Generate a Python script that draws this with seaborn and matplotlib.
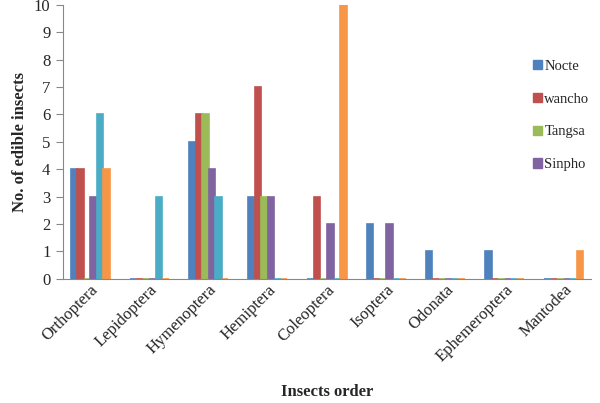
import numpy as np
import pandas as pd
import seaborn as sns
from matplotlib import pyplot as plt

orders = ['Orthoptera', 'Lepidoptera', 'Hymenoptera', 'Hemiptera', 'Coleoptera',
          'Isoptera', 'Odonata', 'Ephemeroptera', 'Mantodea']
nocte = [4, 0, 5, 3, 0, 2, 1, 1, 0]
wancho = [4, 0, 6, 7, 3, 0, 0, 0, 0]
tangsa = [0, 0, 6, 3, 0, 0, 0, 0, 0]
sinpho = [3, 0, 4, 3, 2, 2, 0, 0, 0]
series5 = [6, 3, 3, 0, 0, 0, 0, 0, 0]
series6 = [4, 0, 0, 0, 10, 0, 0, 0, 1]

tribes = ['Nocte', 'wancho', 'Tangsa', 'Sinpho', 'Series5', 'Series6']
colors = ['#4F81BD', '#C0504D', '#9BBB59', '#8064A2', '#4BACC6', '#F79646']

rows = []
for name, vals in zip(tribes, [nocte, wancho, tangsa, sinpho, series5, series6]):
    for o, v in zip(orders, vals):
        rows.append({'order': o, 'tribe': name, 'count': v})
df = pd.DataFrame(rows)

sns.set_style('white')
plt.rcParams['font.family'] = ['Liberation Serif', 'DejaVu Serif']

fig = plt.figure(figsize=(6, 4.03), dpi=100)
ax = fig.add_axes([0.105, 0.308, 0.88, 0.68])

sns.barplot(data=df, x='order', y='count', hue='tribe', palette=colors,
            saturation=1, width=0.66, ax=ax, legend=False)

# zero bars show as a flat coloured stub, like the original
for p in ax.patches:
    p.set_edgecolor(p.get_facecolor())
    p.set_linewidth(1.2)

ax.set_ylim(0, 10)
ax.set_xlim(-0.46, 8.46)
ax.set_yticks(range(0, 11))
ax.tick_params(axis='y', direction='out', length=5, color='#888888', left=True,
               labelsize=12, pad=4)
ax.tick_params(axis='x', length=0, labelsize=12, pad=2)
plt.setp(ax.get_xticklabels(), rotation=45, ha='right', rotation_mode='anchor')

for s in ['top', 'right']:
    ax.spines[s].set_visible(False)
ax.spines['left'].set_color('#888888')
ax.spines['bottom'].set_color('#888888')

ax.set_xlabel('Insects order', fontsize=12, fontweight='bold', labelpad=14)
ax.set_ylabel('No. of edible insects', fontsize=12, fontweight='bold')

handles = [plt.Rectangle((0, 0), 1, 1, color=c) for c in colors[:4]]
ax.legend(handles, tribes[:4], loc='upper left', bbox_to_anchor=(0.88, 0.82),
          frameon=False, fontsize=10.5, handlelength=0.6, handleheight=0.6,
          handletextpad=0.15, labelspacing=1.35, borderaxespad=0)

fig.savefig('out.png', dpi=100)
